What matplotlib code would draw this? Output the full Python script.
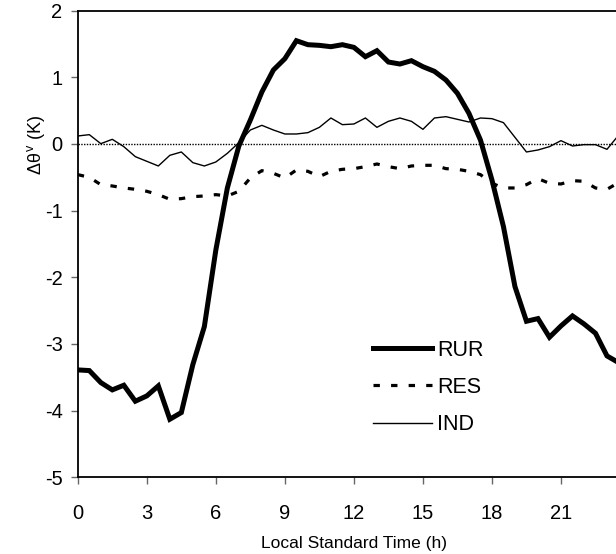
import matplotlib

matplotlib.use("Agg")
import matplotlib.pyplot as plt
import numpy as np

# half-hourly values, 0.0 ... 23.5 h
hours = np.arange(0, 24, 0.5)

rur = [
    -3.39, -3.40, -3.58, -3.69, -3.62, -3.86, -3.78, -3.63, -4.13, -4.03,
    -3.31, -2.74, -1.59, -0.66, -0.03, 0.36, 0.78, 1.11, 1.28, 1.55,
    1.49, 1.48, 1.46, 1.49, 1.45, 1.31, 1.40, 1.23, 1.20, 1.25,
    1.16, 1.09, 0.96, 0.76, 0.46, 0.06, -0.54, -1.24, -2.14, -2.66,
    -2.62, -2.90, -2.73, -2.58, -2.70, -2.84, -3.18, -3.28,
]
res = [
    -0.46, -0.50, -0.61, -0.63, -0.66, -0.68, -0.71, -0.76, -0.83, -0.82,
    -0.79, -0.78, -0.76, -0.78, -0.71, -0.51, -0.40, -0.44, -0.51, -0.39,
    -0.41, -0.49, -0.41, -0.38, -0.37, -0.34, -0.30, -0.34, -0.37, -0.33,
    -0.32, -0.32, -0.37, -0.38, -0.41, -0.46, -0.59, -0.66, -0.66, -0.61,
    -0.52, -0.59, -0.60, -0.55, -0.56, -0.66, -0.68, -0.58,
]
ind = [
    0.12, 0.14, 0.005, 0.07, -0.04, -0.19, -0.26, -0.33, -0.17, -0.12,
    -0.28, -0.33, -0.27, -0.14, 0.02, 0.21, 0.28, 0.21, 0.15, 0.15,
    0.17, 0.25, 0.39, 0.29, 0.30, 0.39, 0.25, 0.34, 0.39, 0.34,
    0.22, 0.39, 0.41, 0.37, 0.33, 0.39, 0.38, 0.32, 0.10, -0.12,
    -0.09, -0.04, 0.05, -0.03, -0.01, -0.01, -0.08, 0.13,
]

x_ticks = [0, 3, 6, 9, 12, 15, 18, 21]
y_ticks = [-5, -4, -3, -2, -1, 0, 1, 2]

plt.rcParams.update(
    {
        "font.family": ["Liberation Sans", "DejaVu Sans"],
        "mathtext.fontset": "custom",
        "mathtext.rm": "Liberation Sans",
        "mathtext.it": "Liberation Sans",
        "axes.unicode_minus": False,
    }
)

W, H = 616, 554
fig = plt.figure(figsize=(W / 100, H / 100), dpi=100)
# axes runs off the right edge of the picture, as in the source
left, right, top, bottom = 77.8, 630.0, 10.7, 477.2
ax = fig.add_axes([left / W, 1 - bottom / H, (right - left) / W, (bottom - top) / H])

ax.plot(hours, rur, color="black", lw=3.6, label="RUR", solid_joinstyle="miter")
ax.plot(hours, res, color="black", lw=2.3, ls=(0, (2.0, 3.5)), label="RES")
ax.plot(hours, ind, color="black", lw=1.0, label="IND")
ax.axhline(0, color="black", lw=1.0, ls=(0, (1, 1)), zorder=1)

ax.set_xlim(0, 24)
ax.set_ylim(-5, 2)
ax.set_xticks(x_ticks)
ax.set_yticks(y_ticks)
ax.tick_params(axis="both", direction="out", length=5, width=1.0, color="#666666", labelsize=14.5)
ax.tick_params(axis="x", pad=14)
ax.tick_params(axis="y", pad=6)
for side in ("left", "bottom", "top"):
    ax.spines[side].set_linewidth(1.3)
ax.spines["right"].set_visible(False)

ax.set_xlabel("Local Standard Time (h)", fontsize=12.5, labelpad=10)
ax.set_ylabel(r"$\Delta\theta^{\mathrm{v}}$ (K)", fontsize=13)
# the source puts the y label level with the zero line, not mid-axis
ax.yaxis.set_label_coords(-0.055, 0.712)

ax.legend(
    loc="upper left",
    bbox_to_anchor=(373 / W, 1 - 339.5 / H),
    bbox_transform=fig.transFigure,
    frameon=False,
    fontsize=15.5,
    handlelength=2.75,
    handletextpad=0.23,
    labelspacing=0.76,
    borderpad=0,
    borderaxespad=0,
)

fig.savefig("out.png", dpi=100)
